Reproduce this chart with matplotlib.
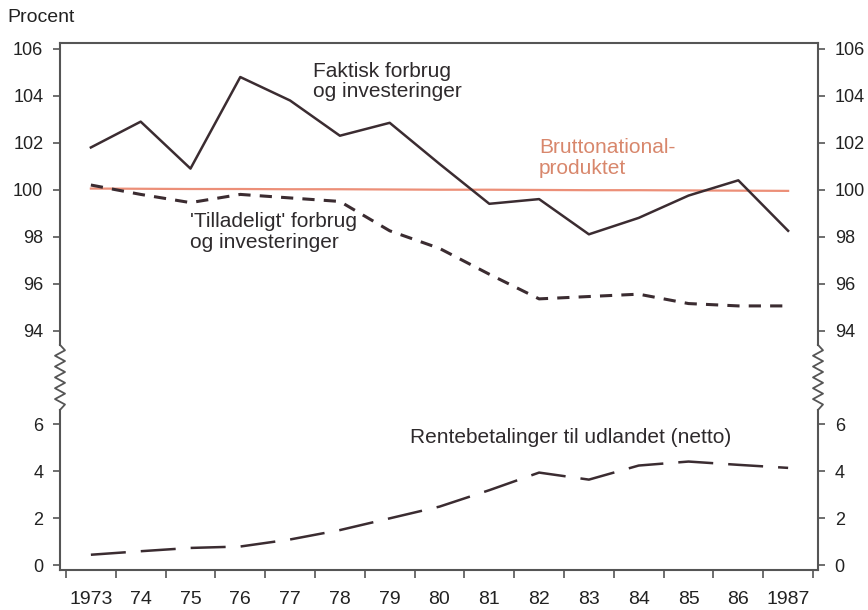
import numpy as np
import matplotlib
matplotlib.use("Agg")
import matplotlib.pyplot as plt

plt.rcParams['font.family'] = ['Liberation Sans', 'DejaVu Sans']

# Data
years = np.arange(1973, 1988)
year_labels = ['1973', '74', '75', '76', '77', '78', '79', '80',
               '81', '82', '83', '84', '85', '86', '1987']
faktisk = [101.8, 102.9, 100.9, 104.8, 103.8, 102.3, 102.85, 101.1,
           99.4, 99.6, 98.1, 98.8, 99.75, 100.4, 98.25]
brutto = [100.05, 100.04, 100.03, 100.03, 100.02, 100.02, 100.01, 100.0,
          100.0, 99.99, 99.98, 99.98, 99.97, 99.96, 99.95]
tilladeligt = [100.2, 99.8, 99.45, 99.8, 99.65, 99.5, 98.25, 97.5,
               96.4, 95.35, 95.45, 95.55, 95.15, 95.05, 95.05]
rente = [0.45, 0.6, 0.74, 0.8, 1.1, 1.5, 2.0, 2.5,
         3.2, 3.95, 3.65, 4.25, 4.42, 4.28, 4.15]
yticks = [0, 2, 4, 6, 94, 96, 98, 100, 102, 104, 106]

dark = '#3b2c31'
axis_col = '#555555'
salmon = '#ec8f78'


# broken y axis: 0-6 and 94-106 shown, gap squeezed into 4 units
def fwd(v):
    v = np.asarray(v, dtype=float)
    return np.where(v <= 6, v, np.where(v >= 94, v - 84, 6 + (v - 6) * 4 / 88))


def inv(p):
    p = np.asarray(p, dtype=float)
    return np.where(p <= 6, p, np.where(p >= 10, p + 84, 6 + (p - 6) * 88 / 4))


fig = plt.figure(figsize=(8.68, 6.10), dpi=100)
ax = fig.add_axes([60 / 868, 40 / 610, 758 / 868, 527 / 610])
ax.set_yscale('function', functions=(fwd, inv))
ax.set_ylim(-0.2, 106.25)
ax.set_xlim(1972.38, 1987.6)

ax.plot(years, brutto, color=salmon, lw=1.6)
ax.plot(years, faktisk, color=dark, lw=1.8)
ax.plot(years, tilladeligt, color=dark, lw=2.2, dashes=(4, 3))
ax.plot(years, rente, color=dark, lw=1.8, dashes=(14, 6))

# x axis: tick marks between years, labels on the years
ax.set_xticks(np.arange(1972.5, 1988, 1.0))
ax.set_xticklabels([])
ax.set_xticks(years, minor=True)
ax.set_xticklabels(year_labels, minor=True, fontsize=14, color='#222222')
ax.tick_params(axis='x', which='major', direction='out', length=6, width=1.2, color=axis_col)
ax.tick_params(axis='x', which='minor', length=0, pad=15)

# y axis on both sides
ax.set_yticks(yticks)
ax.set_yticklabels([str(t) for t in yticks], fontsize=13, color='#222222')
ax.yaxis.set_minor_locator(matplotlib.ticker.NullLocator())
ax.tick_params(axis='y', which='major', direction='out', length=5, width=1.2, color=axis_col,
               left=True, right=True, labelleft=True, labelright=True, pad=7)

for side in ['left', 'right']:
    ax.spines[side].set_visible(False)
for side in ['top', 'bottom']:
    ax.spines[side].set_color(axis_col)
    ax.spines[side].set_linewidth(1.5)

# vertical axis lines with zigzag break
y0, y1 = ax.get_ylim()
p0, p1 = float(fwd(y0)), float(fwd(y1))


def to_axes(pos):
    return (pos - p0) / (p1 - p0)


b_lo, b_hi = to_axes(6.62), to_axes(9.39)
n_zig = 12
zy = np.linspace(b_lo, b_hi, n_zig + 1)
amp = 5 / 758
for xa in [0, 1]:
    ax.plot([xa, xa], [0, b_lo], transform=ax.transAxes, color=axis_col, lw=1.5, clip_on=False)
    ax.plot([xa, xa], [b_hi, 1], transform=ax.transAxes, color=axis_col, lw=1.5, clip_on=False)
    zx = [xa] + [xa + amp * (1 if i % 2 else -1) for i in range(1, n_zig)] + [xa]
    ax.plot(zx, zy, transform=ax.transAxes, color=axis_col, lw=1.3, clip_on=False)

# annotations
txt = dict(fontsize=15, color='#2e2a2c', va='top', ha='left', linespacing=1.1)
ax.text(1977.45, 105.45, 'Faktisk forbrug\nog investeringer', **txt)
ax.text(1975.0, 99.05, "'Tilladeligt' forbrug\nog investeringer", **txt)
ax.text(1979.4, 5.85, 'Rentebetalinger til udlandet (netto)', **txt)
ax.text(1982.0, 102.2, 'Bruttonational-\nproduktet', fontsize=15,
        color='#d8876c', va='top', ha='left', linespacing=1.1)

fig.text(7 / 868, 1 - 18 / 610, 'Procent', fontsize=14, color='#222222', va='center', ha='left')

fig.savefig('out.png', dpi=100)
